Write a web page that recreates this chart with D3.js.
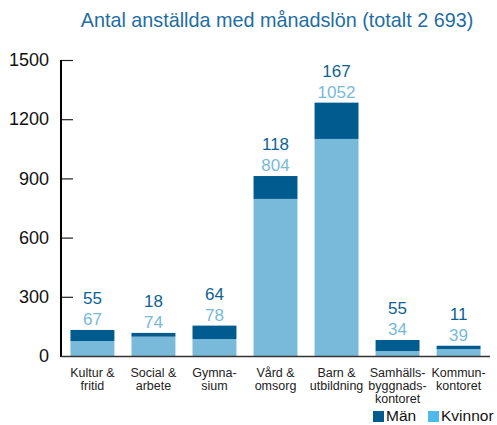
<!DOCTYPE html>
<html lang="sv">
<head>
  <meta charset="UTF-8" />
  <title>Antal anställda med månadslön</title>
  <style>
    body { margin: 0; padding: 0; background: #fff; font-family: "Liberation Sans", Arial, sans-serif; }
    svg { display: block; }
    .tick text { font-size: 18px; fill: #111; }
    .cat { font-size: 12.5px; fill: #222; text-anchor: middle; }
    .val { font-size: 17px; text-anchor: middle; }
  </style>
</head>
<body>
  <svg id="chart" width="497" height="425"></svg>
  <script src="https://d3js.org/d3.v7.min.js"></script>
  <script>
    const categories = [
      ["Kultur &", "fritid"],
      ["Social &", "arbete"],
      ["Gymna-", "sium"],
      ["Vård &", "omsorg"],
      ["Barn &", "utbildning"],
      ["Samhälls-", "byggnads-", "kontoret"],
      ["Kommun-", "kontoret"]
    ];
    // bar heights as drawn in the picture
    const kvinnor = [76, 98, 86, 796, 1100, 25, 35];
    const man = [56, 19, 68, 116, 184, 56, 17];
    // printed value labels
    const manLabels = [55, 18, 64, 118, 167, 55, 11];
    const kvinnorLabels = [67, 74, 78, 804, 1052, 34, 39];
    const yTicks = [0, 300, 600, 900, 1200, 1500];

    const darkBlue = "#005b8f";
    const lightBlue = "#79b9d9";
    const legendLight = "#4fb9ea";

    const svg = d3.select("#chart");

    const x = d3.scaleBand()
      .domain(d3.range(categories.length))
      .range([61, 490])
      .paddingInner(0.28)
      .paddingOuter(0.155);

    const y = d3.scaleLinear().domain([0, 1500]).range([356, 60]);

    svg.append("text")
      .attr("x", 277)
      .attr("y", 27)
      .attr("text-anchor", "middle")
      .style("font-size", "19.8px")
      .style("fill", "#1f6e9f")
      .text("Antal anställda med månadslön (totalt 2 693)");

    // y axis
    const yAxis = svg.append("g")
      .attr("transform", "translate(61,0)")
      .call(d3.axisRight(y).tickValues(yTicks).tickSize(12).tickFormat(d => d));
    yAxis.select(".domain").remove();
    yAxis.selectAll(".tick line").attr("stroke", "#222").attr("stroke-width", 1.2);
    yAxis.selectAll(".tick text")
      .attr("x", -12)
      .attr("text-anchor", "end");
    yAxis.select(".tick:first-of-type line").remove();
    svg.append("line")
      .attr("x1", 61).attr("x2", 61)
      .attr("y1", 60).attr("y2", 357)
      .attr("stroke", "#000").attr("stroke-width", 2);

    const bars = svg.append("g");
    bars.selectAll(".kv")
      .data(kvinnor)
      .join("rect")
      .attr("x", (d, i) => x(i))
      .attr("width", x.bandwidth())
      .attr("y", d => y(d))
      .attr("height", d => y(0) - y(d))
      .attr("fill", lightBlue);
    bars.selectAll(".ma")
      .data(man)
      .join("rect")
      .attr("x", (d, i) => x(i))
      .attr("width", x.bandwidth())
      .attr("y", (d, i) => y(d + kvinnor[i]))
      .attr("height", d => y(0) - y(d))
      .attr("fill", darkBlue);

    // x axis line
    svg.append("line")
      .attr("x1", 61).attr("x2", 490)
      .attr("y1", 356.5).attr("y2", 356.5)
      .attr("stroke", "#333").attr("stroke-width", 1.5);

    // value labels above each bar
    categories.forEach((c, i) => {
      const top = y(kvinnor[i] + man[i]);
      const cx = x(i) + x.bandwidth() / 2;
      svg.append("text").attr("class", "val")
        .attr("x", cx).attr("y", top - 5)
        .style("fill", lightBlue)
        .text(kvinnorLabels[i]);
      svg.append("text").attr("class", "val")
        .attr("x", cx).attr("y", top - 26)
        .style("fill", "#0f5f92")
        .text(manLabels[i]);
      const t = svg.append("text").attr("class", "cat")
        .attr("x", cx).attr("y", 377);
      c.forEach((line, j) => {
        t.append("tspan").attr("x", cx).attr("dy", j === 0 ? 0 : 13).text(line);
      });
    });

    // legend
    const legend = [["Män", darkBlue, 373], ["Kvinnor", legendLight, 428]];
    legend.forEach(([name, col, lx]) => {
      svg.append("rect").attr("x", lx).attr("y", 411).attr("width", 11).attr("height", 11).attr("fill", col);
      svg.append("text").attr("x", lx + 13).attr("y", 421)
        .style("font-size", "15.5px").style("fill", "#111").text(name);
    });
  </script>
</body>
</html>
